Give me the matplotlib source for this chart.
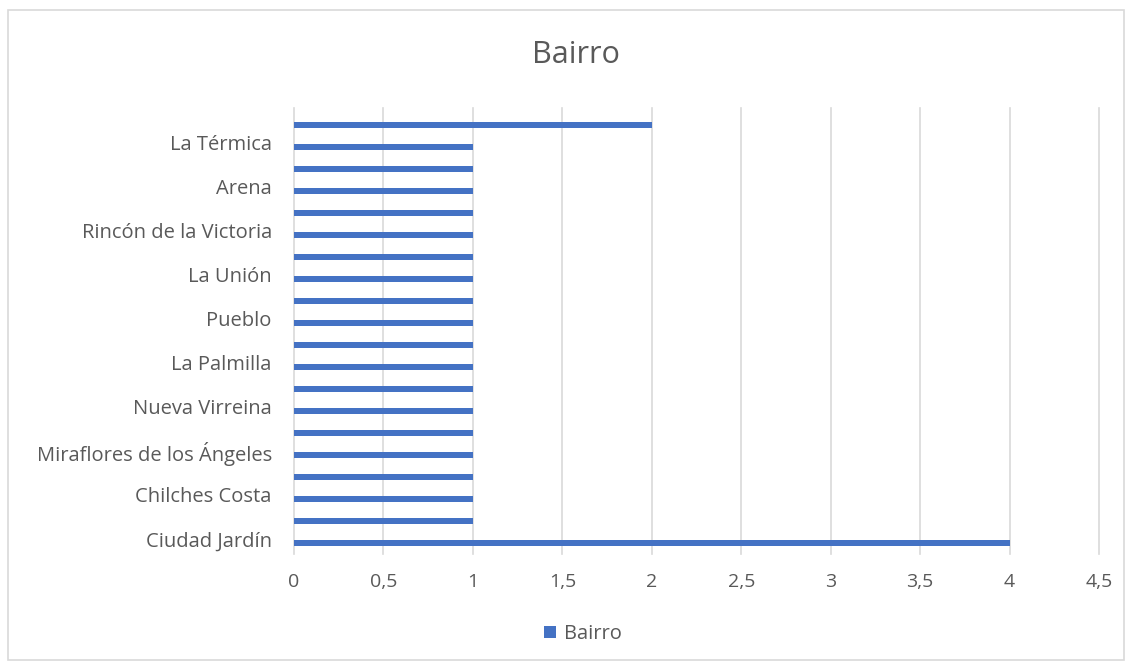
import matplotlib.pyplot as plt
import matplotlib.transforms as mtransforms
from matplotlib.patches import Rectangle

# 20 categories, Excel only shows every other label
categories = ["Ciudad Jardín", "", "Chilches Costa", "", "Miraflores de los Ángeles", "",
              "Nueva Virreina", "", "La Palmilla", "", "Pueblo", "", "La Unión", "",
              "Rincón de la Victoria", "", "Arena", "", "La Térmica", ""]
values = [4, 1, 1, 1, 1, 1, 1, 1, 1, 1, 1, 1, 1, 1, 1, 1, 1, 1, 1, 2]
x_ticks = [0, 0.5, 1, 1.5, 2, 2.5, 3, 3.5, 4, 4.5]
x_labels = ["0", "0,5", "1", "1,5", "2", "2,5", "3", "3,5", "4", "4,5"]

plt.rcParams['font.family'] = ['Open Sans', 'DejaVu Sans']
txt = "#595959"
blue = "#4472C4"

fig = plt.figure(figsize=(11.31, 6.66), dpi=100)
fig.patches.append(Rectangle((8 / 1131, 6 / 666), 1116 / 1131, 650 / 666, transform=fig.transFigure,
                             fill=False, edgecolor="#d9d9d9", linewidth=1.2))
ax = fig.add_axes([294 / 1131, 1 - 554 / 666, 805 / 1131, 440 / 666])

ypos = list(range(len(values)))
ax.barh(ypos, values, height=0.24, color=blue, zorder=3, label="Bairro")

ax.set_xlim(0, 4.5)
ax.set_ylim(-0.5, len(values) - 0.5)
ax.set_xticks(x_ticks)
ax.set_xticklabels(x_labels, fontsize=14, color=txt)
ax.set_yticks(ypos)
ax.set_yticklabels(categories, fontsize=14.5, color=txt)
ax.tick_params(axis="both", length=0)
ax.tick_params(axis="x", pad=14)
ax.tick_params(axis="y", pad=16)
# Excel puts the labels a touch above the bar centre
shift = mtransforms.ScaledTranslation(0, 4 / 100, fig.dpi_scale_trans)
for lab in ax.get_yticklabels():
    lab.set_transform(lab.get_transform() + shift)

# gridlines run slightly above the top category
for xv in x_ticks:
    ax.axvline(xv, ymin=0, ymax=1.014, color="#d9d9d9", linewidth=1.2, zorder=0, clip_on=False)
for s in ax.spines.values():
    s.set_visible(False)

fig.text(576 / 1131, 1 - 55 / 666, "Bairro", ha="center", va="center", fontsize=22, color=txt)
ax.legend(loc="center", bbox_to_anchor=(583 / 1131, 1 - 634 / 666), bbox_transform=fig.transFigure,
          frameon=False, fontsize=14.5, labelcolor=txt, handlelength=0.6, handleheight=0.6,
          handletextpad=0.4)

fig.savefig("out.png", dpi=100)
